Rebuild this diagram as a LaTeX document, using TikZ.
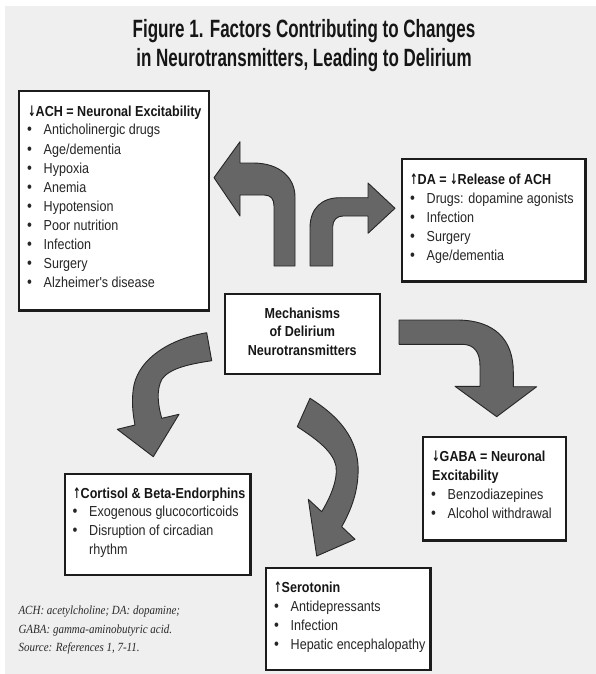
\documentclass[tikz,border=0pt]{standalone}
\usepackage{fontspec}
\newfontfamily\bodyfont[FakeStretch=0.866]{Liberation Sans}
\newfontfamily\titlefont[FakeStretch=0.68]{Liberation Sans}
\newfontfamily\notefont[FakeStretch=0.88]{Liberation Serif}
\newfontfamily\arrowfont[FakeStretch=0.62]{DejaVu Sans}
\newcommand\arrup{{\arrowfont ↑}}
\newcommand\arrdn{{\arrowfont ↓}}

\definecolor{panelgrey}{HTML}{EFEFEF}
\definecolor{boxline}{HTML}{1C1C1C}
\definecolor{arrowfill}{HTML}{666666}
\definecolor{arrowline}{HTML}{262626}
\definecolor{headcol}{HTML}{161616}
\definecolor{itemcol}{HTML}{262626}
\definecolor{notecol}{HTML}{2A2A2A}

\tikzset{
  panel/.style={fill=panelgrey, draw=none},
  box/.style={draw=boxline, line width=2.4pt, fill=white, inner sep=0pt},
  blockarrow/.style={fill=arrowfill, draw=arrowline, line width=0.9pt, line join=round},
  hd/.style={anchor=base west, inner sep=0pt, text=headcol,
    font=\bodyfont\bfseries\fontsize{14.5}{17}\selectfont},
  hdc/.style={hd, anchor=base},
  item/.style={anchor=base west, inner sep=0pt, text=itemcol,
    font=\bodyfont\fontsize{14.5}{17}\selectfont},
  bul/.style={item, font=\bodyfont\fontsize{16}{18}\selectfont},
  titletext/.style={anchor=base, inner sep=0pt, text=headcol,
    font=\titlefont\bfseries\fontsize{25}{30}\selectfont},
  note/.style={anchor=base west, inner sep=0pt, text=notecol,
    font=\notefont\itshape\fontsize{12.5}{15}\selectfont}
}

% framed box given by its outer corners
\newcommand\infobox[5]{%
  \node[box, anchor=north west,
        minimum width={#4-#2-2.4}, minimum height={#5-#3-2.4}] (#1) at (#2,#3) {};}

% bulleted lines: name, box left edge, first baseline, line step, items
\newcommand\bulletlist[5]{%
  \foreach \t [count=\i] in {#5}{%
    \node[bul]  (#1-b\i) at ({#2+9},{#3+#4*(\i-1)}) {•};
    \node[item] (#1-t\i) at ({#2+25.5},{#3+#4*(\i-1)}) {\t};
  }}

\begin{document}
\begin{tikzpicture}[x=1pt,y=-1pt]
\useasboundingbox (0,0) rectangle (596,674);
\fill[white] (0,0) rectangle (596,674);
\fill[panel] (5,6) rectangle (596,674);

% title
\node[titletext] (title1) at (304,38) {Figure 1. Factors Contributing to Changes};
\node[titletext] (title2) at (304,67) {in Neurotransmitters, Leading to Delirium};

% block arrows leaving the central box
% up, then left
\draw[blockarrow] (295,266) -- (295,197)
  .. controls (295,178) and (280,163) .. (253,163)
  -- (240,163) -- (240,141.7) -- (214,177.7) -- (240,216) -- (240,195)
  -- (264,195) .. controls (271,195) and (274,199) .. (274,206)
  -- (274,266) -- cycle;
% up, then right
\draw[blockarrow] (310,266) -- (310,228)
  .. controls (310,208) and (322,197.7) .. (340,197.7)
  -- (368,197.7) -- (368,183) -- (395,208.3) -- (368,233.3) -- (368,216)
  -- (343,216) .. controls (337,216) and (332.7,220) .. (332.7,226.7)
  -- (332.7,266) -- cycle;
% left, then down
\draw[blockarrow] (206.7,332.7)
  .. controls (170,339) and (140,358) .. (134,385)
  .. controls (131,400) and (133,415) .. (135,425)
  -- (117.3,429.3) -- (153.3,456.7) -- (179,414.3) -- (161.7,418.3)
  .. controls (158,405) and (156,390) .. (162,379)
  .. controls (170,368) and (190,364) .. (211.7,360.7) -- cycle;
% right, then down
\draw[blockarrow] (399,320) -- (456.7,320)
  .. controls (495,320) and (513.3,340) .. (513.3,372)
  -- (513.3,386.7) -- (536.7,386.7) -- (496.7,416.7) -- (455,386.3) -- (480,386.3)
  -- (480,366) .. controls (480,352) and (474,344.3) .. (462,344.3)
  -- (399,344.3) -- cycle;
% down
\draw[blockarrow] (310,398.3)
  .. controls (345,420) and (360,445) .. (358,475)
  .. controls (357,495) and (350,512) .. (341.7,526.7)
  -- (355,539.3) -- (316.7,556) -- (308.3,499.3) -- (321.7,511.7)
  .. controls (330,498) and (338,480) .. (336,466)
  .. controls (333,452) and (318,440) .. (297.3,426.7) -- cycle;

% central box
\infobox{mech}{223.5}{292.5}{381}{375}
\node[hdc] (mech-1) at (302.3,318)   {Mechanisms};
\node[hdc] (mech-2) at (302.3,336.5) {of Delirium};
\node[hdc] (mech-3) at (302.3,355)   {Neurotransmitters};

% acetylcholine
\infobox{ach}{18}{90}{210}{311.5}
\node[hd] (ach-h) at (28,117) {\arrdn ACH = Neuronal Excitability};
\bulletlist{ach}{18}{135}{19}{Anticholinergic drugs, Age/dementia, Hypoxia, Anemia,
  Hypotension, Poor nutrition, Infection, Surgery, Alzheimer's disease}

% dopamine
\infobox{da}{401}{158}{586.5}{282.5}
\node[hd] (da-h) at (410,184) {\arrup DA = \arrdn Release of ACH};
\bulletlist{da}{401}{203}{19}{Drugs: dopamine agonists, Infection, Surgery, Age/dementia}

% cortisol
\infobox{cort}{63.5}{473}{251.5}{576}
\node[hd] (cort-h) at (73,498) {\arrup Cortisol \& Beta-Endorphins};
\bulletlist{cort}{63.5}{516.7}{18.7}{Exogenous glucocorticoids, Disruption of circadian}
\node[item] (cort-t2b) at (89,554) {rhythm};

% GABA
\infobox{gaba}{422}{435.5}{567}{541.5}
\node[hd] (gaba-h1) at (432,461.5) {\arrdn GABA = Neuronal};
\node[hd] (gaba-h2) at (432,480.5) {Excitability};
\bulletlist{gaba}{422}{499.5}{18.8}{Benzodiazepines, Alcohol withdrawal}

% serotonin
\infobox{sero}{265}{567}{431.5}{671}
\node[hd] (sero-h) at (274,592) {\arrup Serotonin};
\bulletlist{sero}{265}{611}{19}{Antidepressants, Infection, Hepatic encephalopathy}

% abbreviations and source
\node[note] (note1) at (18.3,614.5) {ACH: acetylcholine; DA: dopamine;};
\node[note] (note2) at (18.3,633)   {GABA: gamma-aminobutyric acid.};
\node[note] (note3) at (18.3,651.5) {Source: References 1, 7-11.};
\end{tikzpicture}
\end{document}
